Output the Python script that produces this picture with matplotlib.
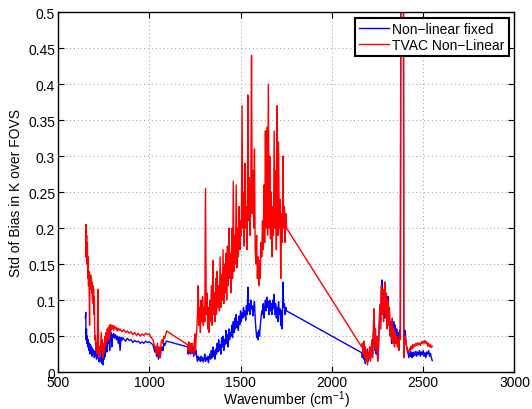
import matplotlib
matplotlib.use("Agg")
import matplotlib.pyplot as plt
import numpy as np

# ---- Data: Non-linear fixed (blue) ----
blue_x1 = [650,652,654,656,658,660,663,666,669,672,675,678,681,684,687,690,693,696,699,702,705,708,711,714,717,720,723,726,729,732,735,738,741,744,747,750,753,756,759,762,765,768,771,774,777,780,783,786,789,792,795,798,801,805,810,815,820,825,830,835,840,845,850,855,860,870,880,890,900,910,920,930,940,950,960,970,980,990,1000,1010,1020,1025,1030,1035,1040,1045,1050,1055,1060,1065,1070,1075,1080,1085,1090,1095]
blue_y1 = [0.075,0.083,0.045,0.06,0.04,0.05,0.035,0.045,0.03,0.04,0.025,0.038,0.028,0.035,0.022,0.032,0.025,0.03,0.02,0.028,0.022,0.03,0.018,0.025,0.02,0.028,0.015,0.022,0.014,0.02,0.018,0.04,0.012,0.02,0.01,0.025,0.018,0.03,0.022,0.04,0.045,0.028,0.035,0.05,0.04,0.055,0.03,0.05,0.045,0.055,0.035,0.052,0.048,0.054,0.047,0.052,0.045,0.05,0.04,0.049,0.03,0.048,0.044,0.048,0.046,0.043,0.047,0.044,0.045,0.041,0.044,0.042,0.043,0.04,0.042,0.04,0.043,0.041,0.042,0.04,0.038,0.033,0.028,0.032,0.022,0.028,0.018,0.03,0.02,0.032,0.035,0.03,0.04,0.037,0.041,0.043]

blue_x2 = [1210,1213,1216,1219,1222,1225,1228,1231,1234,1237,1240,1243,1246,1250,1253,1256,1260,1264,1268,1272,1276,1280,1284,1288,1292,1296,1300,1304,1308,1312,1316,1320,1324,1328,1332,1336,1340,1344,1348,1352,1356,1360,1364,1368,1372,1376,1380,1384,1388,1392,1396,1400,1404,1408,1412,1416,1420,1424,1428,1432,1436,1440,1444,1448,1452,1456,1460,1464,1468,1472,1476,1480,1484,1488,1492,1496,1500,1504,1508,1512,1516,1520,1524,1528,1532,1536,1540,1544,1548,1552,1556,1560,1564,1568,1572,1576,1580,1584,1588,1592,1596,1600,1604,1608,1612,1616,1620,1624,1628,1632,1636,1640,1644,1648,1652,1656,1660,1664,1668,1672,1676,1680,1684,1688,1692,1696,1700,1704,1708,1712,1716,1720,1724,1728,1732,1736,1740,1744,1748,1752]
blue_y2 = [0.035,0.025,0.033,0.028,0.035,0.025,0.032,0.027,0.036,0.026,0.03,0.022,0.03,0.035,0.025,0.03,0.02,0.015,0.022,0.017,0.02,0.015,0.022,0.016,0.02,0.014,0.018,0.025,0.015,0.02,0.017,0.022,0.013,0.02,0.025,0.018,0.03,0.02,0.035,0.022,0.03,0.018,0.032,0.025,0.04,0.028,0.045,0.03,0.038,0.025,0.048,0.035,0.05,0.03,0.045,0.038,0.058,0.04,0.052,0.035,0.06,0.045,0.055,0.05,0.065,0.048,0.07,0.055,0.075,0.06,0.08,0.062,0.07,0.058,0.078,0.066,0.085,0.07,0.082,0.075,0.09,0.078,0.085,0.072,0.092,0.08,0.118,0.085,0.095,0.08,0.1,0.088,0.092,0.078,0.09,0.098,0.075,0.06,0.048,0.055,0.045,0.058,0.05,0.065,0.075,0.085,0.08,0.095,0.075,0.09,0.1,0.085,0.104,0.09,0.098,0.08,0.1,0.085,0.095,0.08,0.1,0.088,0.108,0.08,0.095,0.075,0.09,0.07,0.098,0.08,0.088,0.065,0.085,0.06,0.125,0.09,0.095,0.08,0.09,0.085]

blue_x3 = [2163,2167,2171,2175,2179,2183,2187,2191,2195,2199,2203,2207,2211,2215,2219,2223,2227,2231,2235,2239,2243,2247,2251,2255,2259,2263,2267,2271,2275,2279,2283,2287,2291,2295,2299,2303,2307,2311,2315,2319,2323,2327,2331,2335,2339,2343,2347,2351,2355,2359,2363,2367,2371,2375,2378,2392,2394,2398,2402,2406,2410,2414,2418,2422,2426,2430,2434,2438,2442,2446,2450,2455,2460,2465,2470,2475,2480,2485,2490,2495,2500,2505,2510,2515,2520,2525,2530,2535,2540,2545,2550]
blue_y3 = [0.027,0.02,0.03,0.018,0.025,0.012,0.028,0.02,0.032,0.015,0.022,0.03,0.018,0.028,0.04,0.025,0.05,0.065,0.03,0.045,0.025,0.04,0.018,0.03,0.06,0.09,0.07,0.11,0.128,0.09,0.11,0.075,0.125,0.08,0.1,0.065,0.105,0.07,0.085,0.055,0.07,0.04,0.06,0.045,0.07,0.05,0.065,0.04,0.06,0.045,0.055,0.035,0.058,0.05,0.6,0.6,0.03,0.05,0.058,0.04,0.035,0.03,0.025,0.02,0.03,0.022,0.028,0.02,0.027,0.022,0.028,0.023,0.029,0.022,0.028,0.024,0.03,0.022,0.028,0.024,0.03,0.022,0.027,0.02,0.028,0.025,0.03,0.022,0.026,0.02,0.016]

# ---- Data: TVAC Non-Linear (red) ----
red_x1 = [651,653,655,657,659,661,663,665,667,669,671,673,675,677,679,681,683,685,687,689,691,693,695,697,699,701,703,705,707,710,713,716,718,720,722,725,728,731,734,737,740,743,746,749,752,755,758,761,764,767,770,773,776,779,782,785,788,791,794,797,800,805,810,815,820,825,830,835,840,850,860,870,880,890,900,910,920,930,940,950,960,970,980,990,1000,1010,1020,1025,1030,1035,1040,1045,1050,1055,1060,1065,1070,1075,1080,1085,1090,1095]
red_y1 = [0.16,0.205,0.17,0.19,0.15,0.18,0.13,0.16,0.12,0.14,0.11,0.065,0.13,0.115,0.135,0.12,0.13,0.11,0.125,0.1,0.12,0.095,0.115,0.08,0.105,0.06,0.045,0.05,0.03,0.04,0.025,0.05,0.115,0.085,0.03,0.02,0.035,0.025,0.04,0.055,0.03,0.045,0.02,0.035,0.04,0.028,0.05,0.038,0.055,0.042,0.06,0.05,0.062,0.045,0.065,0.055,0.066,0.058,0.064,0.06,0.065,0.058,0.064,0.06,0.062,0.057,0.061,0.058,0.06,0.056,0.059,0.055,0.057,0.054,0.056,0.052,0.055,0.051,0.054,0.05,0.053,0.051,0.054,0.052,0.053,0.048,0.045,0.04,0.033,0.036,0.025,0.04,0.022,0.035,0.02,0.042,0.045,0.04,0.05,0.047,0.052,0.057]

red_x2 = blue_x2
red_y2 = [0.038,0.03,0.042,0.028,0.04,0.03,0.036,0.026,0.04,0.03,0.035,0.025,0.04,0.053,0.03,0.045,0.06,0.08,0.12,0.065,0.09,0.055,0.1,0.07,0.105,0.065,0.09,0.07,0.255,0.08,0.11,0.06,0.09,0.055,0.1,0.07,0.12,0.065,0.155,0.08,0.11,0.07,0.13,0.08,0.14,0.09,0.12,0.085,0.16,0.09,0.135,0.1,0.17,0.095,0.15,0.11,0.165,0.1,0.175,0.12,0.2,0.13,0.165,0.11,0.2,0.13,0.265,0.14,0.19,0.15,0.26,0.145,0.2,0.16,0.23,0.17,0.21,0.19,0.37,0.2,0.25,0.175,0.29,0.2,0.23,0.17,0.385,0.21,0.27,0.19,0.25,0.44,0.22,0.28,0.2,0.31,0.17,0.15,0.19,0.13,0.16,0.12,0.155,0.13,0.18,0.16,0.21,0.17,0.26,0.18,0.335,0.2,0.34,0.19,0.4,0.2,0.3,0.185,0.25,0.16,0.23,0.19,0.335,0.2,0.28,0.17,0.37,0.19,0.32,0.2,0.24,0.13,0.22,0.18,0.3,0.2,0.23,0.18,0.22,0.2]

red_x3 = blue_x3
red_y3 = [0.035,0.04,0.025,0.043,0.02,0.035,0.015,0.03,0.01,0.025,0.02,0.035,0.015,0.03,0.045,0.02,0.06,0.088,0.035,0.06,0.03,0.05,0.015,0.035,0.065,0.094,0.06,0.12,0.08,0.115,0.07,0.1,0.125,0.075,0.11,0.06,0.1,0.065,0.09,0.05,0.065,0.045,0.075,0.04,0.06,0.035,0.055,0.04,0.05,0.035,0.045,0.03,0.05,0.045,0.6,0.6,0.02,0.045,0.05,0.04,0.035,0.028,0.03,0.027,0.033,0.03,0.036,0.032,0.038,0.034,0.038,0.036,0.04,0.037,0.041,0.038,0.04,0.037,0.042,0.04,0.043,0.04,0.044,0.04,0.042,0.036,0.04,0.035,0.038,0.034,0.036]

x_ticks = [500, 1000, 1500, 2000, 2500, 3000]
y_ticks = [0, 0.05, 0.1, 0.15, 0.2, 0.25, 0.3, 0.35, 0.4, 0.45, 0.5]
y_tick_labels = ["0", "0.05", "0.1", "0.15", "0.2", "0.25", "0.3", "0.35", "0.4", "0.45", "0.5"]

plt.rcParams['font.family'] = ['Liberation Sans', 'DejaVu Sans']
plt.rcParams['mathtext.default'] = 'regular'

fig = plt.figure(figsize=(5.32, 4.10), dpi=100)
ax = fig.add_axes([0.109, 0.09, 0.858, 0.878])

bx = blue_x1 + blue_x2 + blue_x3
by = blue_y1 + blue_y2 + blue_y3
rx = red_x1 + red_x2 + red_x3
ry = red_y1 + red_y2 + red_y3

ax.plot(bx, by, color='#0000ff', lw=1.0, label='Non\u2212linear fixed')
ax.plot(rx, ry, color='#ff0000', lw=1.0, label='TVAC Non\u2212Linear')

ax.set_xlim(500, 3000)
ax.set_ylim(0, 0.5)
ax.set_xticks(x_ticks)
ax.set_yticks(y_ticks)
ax.set_yticklabels(y_tick_labels)
ax.tick_params(direction='in', top=True, right=True, labelsize=10, length=4, width=0.8, pad=2)
ax.grid(True, linestyle=(0, (1, 3)), color='#999999', linewidth=0.7)
for s in ax.spines.values():
    s.set_linewidth(1.0)
    s.set_color('black')

ax.set_xlabel('Wavenumber (cm$^{-1}$)', fontsize=10, labelpad=0)
ax.set_ylabel('Std of Bias in K over FOVS', fontsize=10, labelpad=4)

leg = ax.legend(loc='upper right', fancybox=False, framealpha=1, edgecolor='black',
                fontsize=10, borderaxespad=0.4, handlelength=2.15, borderpad=0.3,
                labelspacing=0.15, handletextpad=0.25)
leg.get_frame().set_linewidth(1.5)

fig.savefig('out.png', dpi=100)
